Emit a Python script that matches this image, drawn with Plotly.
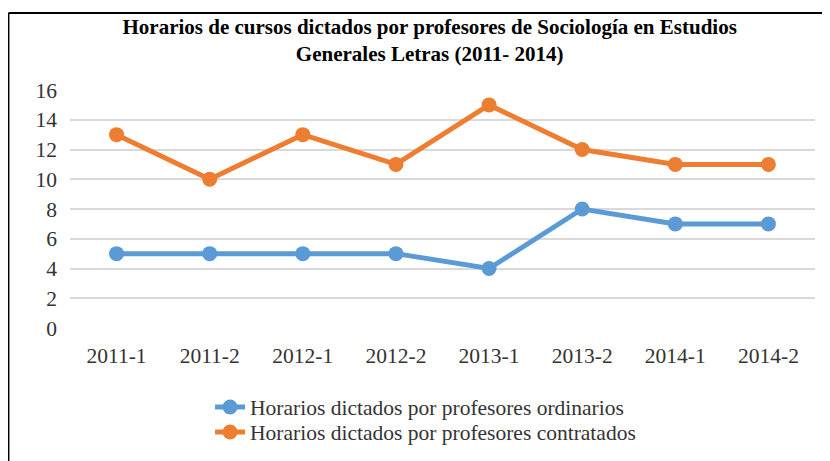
import plotly.graph_objects as go

## Data
periodos = ["2011-1", "2011-2", "2012-1", "2012-2", "2013-1", "2013-2", "2014-1", "2014-2"]
ordinarios = [5, 5, 5, 5, 4, 8, 7, 7]
contratados = [13, 10, 13, 11, 15, 12, 11, 11]

azul = "#5B9BD5"
naranja = "#ED7D31"
serif = "Liberation Serif, Times New Roman, serif"
gris = "#333333"
fs = 21.5

fig = go.Figure()

## One legend per series so the row spacing matches the reference
fig.add_trace(go.Scatter(x=periodos, y=ordinarios, mode="lines+markers",
                         name="Horarios dictados por profesores ordinarios",
                         line=dict(color=azul, width=5),
                         marker=dict(color=azul, size=15), legend="legend"))
fig.add_trace(go.Scatter(x=periodos, y=contratados, mode="lines+markers",
                         name="Horarios dictados por profesores contratados",
                         line=dict(color=naranja, width=5),
                         marker=dict(color=naranja, size=15), legend="legend2"))

## Frame around the chart (only top and left edges visible in the picture)
fig.add_shape(type="line", xref="paper", yref="paper",
              x0=-0.0826, x1=1.03, y0=1.3235, y1=1.3235,
              line=dict(color="black", width=2))
fig.add_shape(type="line", xref="paper", yref="paper",
              x0=-0.0826, x1=-0.0826, y0=1.3235, y1=-0.6,
              line=dict(color="black", width=2))

leg = dict(orientation="v", x=0.188, xanchor="left", yanchor="middle",
           font=dict(family=serif, size=fs, color=gris), itemwidth=30,
           bgcolor="rgba(0,0,0,0)")

fig.update_layout(
    width=822, height=453,
    margin=dict(l=62, r=15, t=82, b=133, autoexpand=False),
    paper_bgcolor="white", plot_bgcolor="white",
    font=dict(family=serif, size=fs, color=gris),
    title=dict(text="<b>Horarios de cursos dictados por profesores de Sociología en Estudios<br>Generales Letras (2011- 2014)</b>",
               x=0.513, xanchor="center", y=0.943, yanchor="top",
               font=dict(family=serif, size=21, color="black")),
    showlegend=True,
    legend=dict(leg, y=-0.332),
    legend2=dict(leg, y=-0.437),
)

fig.update_xaxes(type="category", range=[-0.5, 7.5], showgrid=False, showline=False,
                 zeroline=False, ticks="", ticklabelstandoff=12,
                 tickfont=dict(family=serif, size=fs, color=gris))
fig.update_yaxes(range=[0, 16], dtick=2, showgrid=True, gridcolor="#D9D9D9", gridwidth=2,
                 zeroline=False, showline=False, ticks="", ticklabelstandoff=12,
                 tickfont=dict(family=serif, size=fs, color=gris))

fig.write_html("out.html")
